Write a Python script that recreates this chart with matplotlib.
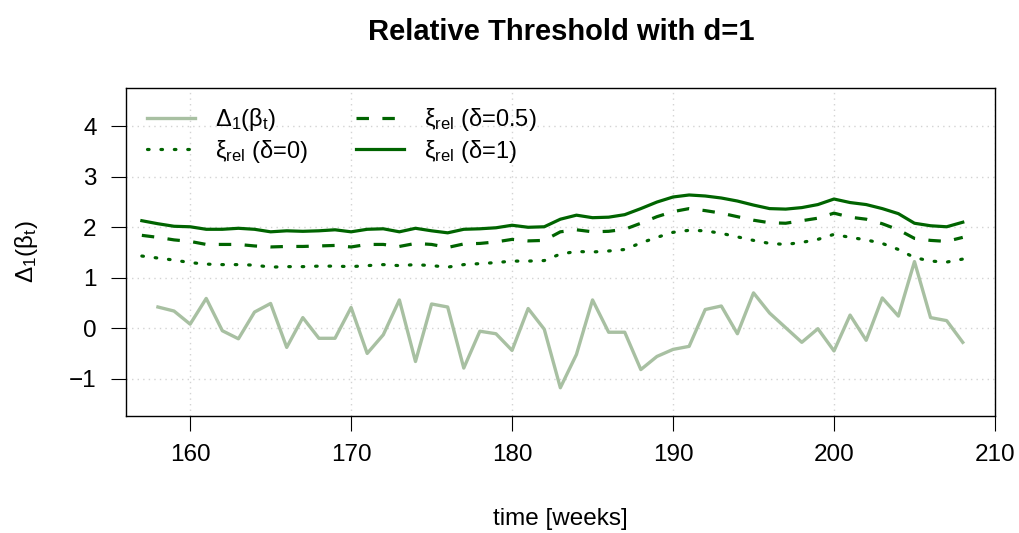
import numpy as np
import matplotlib
matplotlib.use("Agg")
import matplotlib.pyplot as plt

# weekly series
weeks_xi = np.arange(157, 209)
weeks_delta = np.arange(158, 209)

delta_1 = [0.42, 0.34, 0.08, 0.59, -0.05, -0.21, 0.32, 0.49, -0.38, 0.21,
           -0.20, -0.20, 0.41, -0.50, -0.13, 0.56, -0.66, 0.48, 0.42, -0.79,
           -0.06, -0.11, -0.44, 0.39, -0.02, -1.18, -0.52, 0.56, -0.08, -0.08,
           -0.82, -0.56, -0.42, -0.36, 0.37, 0.44, -0.11, 0.70, 0.30, 0.01,
           -0.28, -0.01, -0.45, 0.26, -0.24, 0.60, 0.24, 1.32, 0.21, 0.15,
           -0.28]

xi_d0 = [1.43, 1.39, 1.35, 1.30, 1.27, 1.26, 1.26, 1.25, 1.21, 1.22,
         1.22, 1.23, 1.23, 1.22, 1.24, 1.26, 1.24, 1.26, 1.24, 1.21,
         1.26, 1.28, 1.30, 1.33, 1.33, 1.34, 1.47, 1.52, 1.51, 1.53,
         1.56, 1.69, 1.80, 1.90, 1.94, 1.93, 1.88, 1.81, 1.74, 1.68,
         1.66, 1.70, 1.76, 1.86, 1.80, 1.75, 1.68, 1.56, 1.40, 1.33,
         1.31, 1.37]

xi_d05 = [1.84, 1.80, 1.75, 1.72, 1.66, 1.66, 1.66, 1.63, 1.61, 1.62,
          1.62, 1.63, 1.64, 1.61, 1.66, 1.66, 1.62, 1.68, 1.66, 1.60,
          1.67, 1.68, 1.71, 1.76, 1.73, 1.74, 1.91, 1.95, 1.91, 1.92,
          1.96, 2.08, 2.21, 2.31, 2.37, 2.33, 2.28, 2.21, 2.14, 2.09,
          2.08, 2.13, 2.18, 2.28, 2.20, 2.16, 2.07, 1.95, 1.78, 1.74,
          1.72, 1.80]

xi_d1 = [2.13, 2.07, 2.02, 2.01, 1.96, 1.96, 1.98, 1.96, 1.91, 1.93,
         1.92, 1.93, 1.95, 1.91, 1.96, 1.97, 1.91, 1.98, 1.93, 1.89,
         1.96, 1.97, 1.99, 2.04, 2.00, 2.01, 2.16, 2.24, 2.19, 2.20,
         2.25, 2.37, 2.50, 2.60, 2.64, 2.62, 2.58, 2.52, 2.44, 2.37,
         2.36, 2.39, 2.45, 2.56, 2.49, 2.45, 2.37, 2.27, 2.08, 2.03,
         2.01, 2.10]

x_ticks = [160, 170, 180, 190, 200, 210]
y_ticks = [-1, 0, 1, 2, 3, 4]

plt.rcParams['font.family'] = ['Liberation Sans', 'DejaVu Sans']
plt.rcParams['mathtext.fontset'] = 'custom'
plt.rcParams['mathtext.rm'] = 'Liberation Sans'
plt.rcParams['mathtext.it'] = 'Liberation Sans:italic'

light = '#a8c0a2'
dark = '#006400'
fs = 17.5

fig = plt.figure(figsize=(10.19, 5.33), dpi=100)
ax = fig.add_axes([0.1234, 0.2195, 0.9764 - 0.1234, 0.8349 - 0.2195])

ax.grid(True, color='#d3d3d3', linestyle=(0, (1, 3)), linewidth=1.0)
ax.set_axisbelow(True)

ax.plot(weeks_delta, delta_1, color=light, lw=2.4,
        label=r'$\mathrm{Δ_1(β_t)}$')
ax.plot(weeks_xi, xi_d0, color=dark, lw=2.3, linestyle=(0, (0.5, 3.7)),
        dash_capstyle='round', label=r'$\mathrm{ξ_{rel}}$ (δ=0)')
ax.plot(weeks_xi, xi_d05, color=dark, lw=2.3, linestyle=(0, (3.9, 4.2)),
        label=r'$\mathrm{ξ_{rel}}$ (δ=0.5)')
ax.plot(weeks_xi, xi_d1, color=dark, lw=2.3,
        label=r'$\mathrm{ξ_{rel}}$ (δ=1)')

ax.set_xlim(156, 210)
ax.set_ylim(-1.74, 4.76)
ax.set_xticks(x_ticks)
ax.set_yticks(y_ticks)
ax.set_yticklabels(['\u22121', '0', '1', '2', '3', '4'])
ax.tick_params(labelsize=fs, length=11, width=0.8)
ax.tick_params(axis='x', pad=9.5)
ax.tick_params(axis='y', pad=10)
for s in ax.spines.values():
    s.set_linewidth(1.0)

ax.set_xlabel('time [weeks]', fontsize=fs, labelpad=30)
ax.set_ylabel(r'$\mathrm{Δ_1(β_t)}$', fontsize=fs, labelpad=21)
fig.suptitle('Relative Threshold with d=1', x=0.5505, y=0.94,
             fontsize=21, fontweight='bold', va='center')

ax.legend(loc='upper left', bbox_to_anchor=(147 / 1019, 1 - 106 / 533),
          bbox_transform=fig.transFigure, ncol=2, frameon=False,
          fontsize=17, borderpad=0, borderaxespad=0, handlelength=2.05,
          handletextpad=0.85, columnspacing=2.0, labelspacing=0.2)

fig.savefig('out.png', dpi=100)
